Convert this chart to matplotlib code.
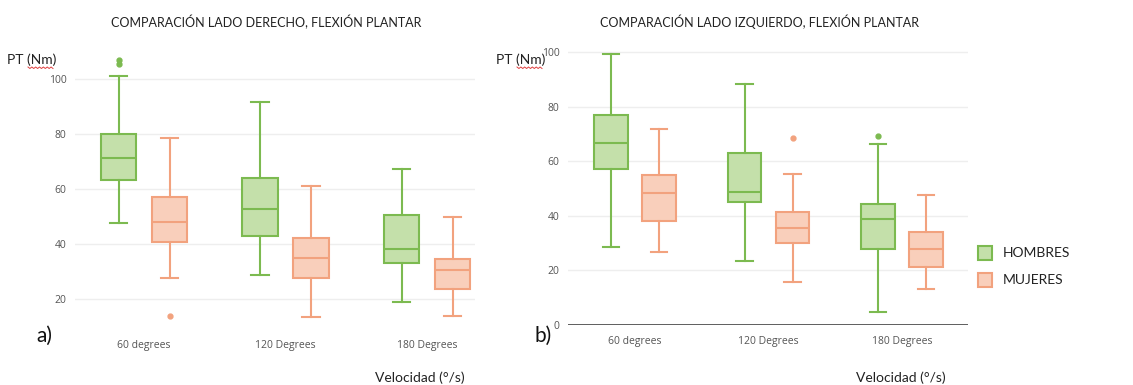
import matplotlib.pyplot as plt
import numpy as np
from matplotlib.patches import Rectangle
from matplotlib.lines import Line2D

plt.rcParams['font.family'] = ['Open Sans', 'DejaVu Sans']

categories = ['60 degrees', '120 Degrees', '180 Degrees']
groups = ['HOMBRES', 'MUJERES']

# lado derecho: [whisker low, q1, median, q3, whisker high] per velocidad
der_hombres = [[47.4, 63.3, 71.4, 80.0, 101.0],
               [28.6, 43.0, 52.7, 63.9, 91.5],
               [19.0, 33.2, 38.1, 50.5, 67.3]]
der_mujeres = [[27.5, 40.8, 47.9, 57.2, 78.4],
               [13.2, 27.7, 34.8, 42.3, 61.2],
               [13.9, 23.4, 30.4, 34.4, 49.9]]
der_hombres_out = [[105.5, 107.0], [], []]
der_mujeres_out = [[13.8], [], []]

# lado izquierdo
izq_hombres = [[28.7, 57.0, 66.7, 77.0, 99.4],
               [23.6, 45.0, 48.9, 63.1, 88.4],
               [4.6, 27.9, 38.7, 44.3, 66.4]]
izq_mujeres = [[26.7, 38.2, 48.3, 54.8, 72.0],
               [15.7, 30.2, 35.7, 41.3, 55.4],
               [13.1, 21.4, 28.0, 34.2, 47.8]]
izq_hombres_out = [[], [], [69.1]]
izq_mujeres_out = [[], [68.7], []]

edge = {'HOMBRES': '#7cba50', 'MUJERES': '#f2a27e'}
fill = {'HOMBRES': '#c4e0aa', 'MUJERES': '#f9cfbb'}


def stats(rows, outliers):
    out = []
    for r, f in zip(rows, outliers):
        out.append(dict(whislo=r[0], q1=r[1], med=r[2], q3=r[3], whishi=r[4], fliers=f))
    return out


def draw_panel(ax, hombres, hombres_out, mujeres, mujeres_out):
    pos = np.arange(len(categories))
    for name, rows, outl, off in [('HOMBRES', hombres, hombres_out, -0.18),
                                  ('MUJERES', mujeres, mujeres_out, 0.18)]:
        c = edge[name]
        ax.bxp(stats(rows, outl), positions=pos + off, widths=0.25, capwidths=0.125,
               patch_artist=True, showfliers=True,
               boxprops=dict(facecolor=fill[name], edgecolor=c, linewidth=1.5),
               medianprops=dict(color=c, linewidth=1.5),
               whiskerprops=dict(color=c, linewidth=1.5),
               capprops=dict(color=c, linewidth=1.5),
               flierprops=dict(marker='o', markersize=3.5, markerfacecolor=c,
                               markeredgecolor=c))
    ax.set_xticks(pos)
    ax.set_xticklabels(categories, fontsize=7.5, color='#555555')
    ax.set_yticks([0, 20, 40, 60, 80, 100])
    ax.tick_params(axis='y', labelsize=7.5, labelcolor='#555555', length=0, pad=6)
    ax.tick_params(axis='x', length=0, pad=8)
    ax.grid(axis='y', color='#eeeeee', linewidth=1)
    ax.set_axisbelow(True)
    for s in ax.spines.values():
        s.set_visible(False)


fig = plt.figure(figsize=(11.33, 3.85), dpi=100)

ax1 = fig.add_axes([75 / 1133, 56 / 385, 400 / 1133, 272 / 385])
draw_panel(ax1, der_hombres, der_hombres_out, der_mujeres, der_mujeres_out)
ax1.set_xlim(-0.488, 2.339)
ax1.set_ylim(9, 108)

ax2 = fig.add_axes([568 / 1133, 60 / 385, 400 / 1133, 281 / 385])
draw_panel(ax2, izq_hombres, izq_hombres_out, izq_mujeres, izq_mujeres_out)
ax2.set_xlim(-0.502, 2.494)
ax2.set_ylim(0, 103)
ax2.axhline(0, color='#444444', linewidth=1.2, zorder=1)

# titles and axis notes
fig.text(266 / 1133, 1 - 22 / 385, 'COMPARACIÓN LADO DERECHO, FLEXIÓN PLANTAR',
         family=['Lato', 'DejaVu Sans'], fontsize=9, ha='center', va='center', color='#222222')
fig.text(760 / 1133, 1 - 22 / 385, 'COMPARACIÓN LADO IZQUIERDO, FLEXIÓN PLANTAR',
         family=['Lato', 'DejaVu Sans'], fontsize=9, ha='center', va='center', color='#222222')

for x0 in (7, 496):
    fig.text(x0 / 1133, 1 - 60 / 385, 'PT (Nm)', family=['Lato', 'DejaVu Sans'],
             fontsize=10, ha='left', va='center', color='#222222')
    # spell-check squiggle under "Nm"
    xs = np.linspace(x0 + 21, x0 + 46, 14)
    ys = 1 - (67 + np.where(np.arange(14) % 2 == 0, 0, 1.5)) / 385
    fig.add_artist(Line2D(xs / 1133, ys, color='#e04040', linewidth=0.7))

fig.text(36 / 1133, 1 - 336 / 385, 'a)', family=['Lato', 'DejaVu Sans'],
         fontsize=15, ha='left', va='center', color='#111111')
fig.text(534 / 1133, 1 - 336 / 385, 'b)', family=['Lato', 'DejaVu Sans'],
         fontsize=15, ha='left', va='center', color='#111111')
fig.text(420 / 1133, 1 - 378 / 385, 'Velocidad (°/s)', family=['Lato', 'DejaVu Sans'],
         fontsize=10, ha='center', va='center', color='#222222')
fig.text(901 / 1133, 1 - 378 / 385, 'Velocidad (°/s)', family=['Lato', 'DejaVu Sans'],
         fontsize=10, ha='center', va='center', color='#222222')

# legend
for i, name in enumerate(groups):
    yc = 253 + 27 * i
    fig.add_artist(Rectangle((978 / 1133, 1 - (yc + 7) / 385), 14 / 1133, 14 / 385,
                             facecolor=fill[name], edgecolor=edge[name], linewidth=1.5))
    fig.text(1003 / 1133, 1 - yc / 385, name, family=['Lato', 'DejaVu Sans'],
             fontsize=10, ha='left', va='center', color='#222222')

fig.savefig('out.png', dpi=100)
